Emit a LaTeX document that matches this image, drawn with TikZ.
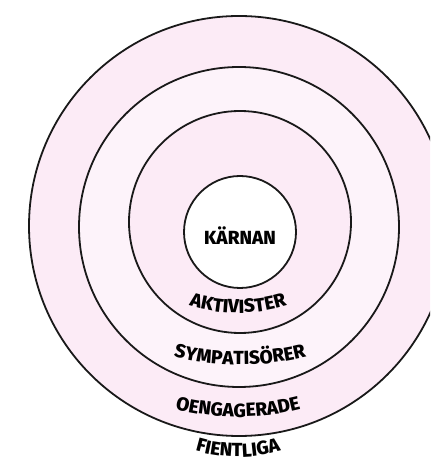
\documentclass[tikz,border=0pt]{standalone}
\usepackage{fontspec}
\newfontfamily\lbl{Fira Sans ExtraBold}
\usetikzlibrary{decorations.text}
\definecolor{ringpink}{RGB}{252,235,246}
\definecolor{ringlight}{RGB}{253,243,250}
\begin{document}
\begin{tikzpicture}[x=1pt,y=1pt,
  ring/.style={draw=black!90, line width=1.8pt},
  arclabel/.style={decorate, decoration={text along path, text align=center, text={|\lbl\fontsize{19}{19}\selectfont|#1}}}]
\useasboundingbox (0,0) rectangle (430,462);
\clip (0,0) rectangle (430,462);
\fill[white] (0,0) rectangle (430,462);
\draw[ring, fill=ringpink] (239,236) circle (210);
\draw[ring, fill=ringlight] (239,235) circle (160);
\draw[ring, fill=ringpink] (240,240) circle (111);
\draw[ring, fill=white] (240,230) circle (56);
\node[font=\lbl\fontsize{19}{19}\selectfont] (karnan) at (240,226) {KÄRNAN};
\coordinate (ca) at (238,314);
\coordinate (cs) at (240,367);
\coordinate (co) at (238,300);
\coordinate (cf) at (238,155);
\path[arclabel={AKTIVISTER}] ([shift={(240:165)}]ca) arc[start angle=240, end angle=300, radius=165];
\path[arclabel={SYMPATISÖRER}] ([shift={(250:270)}]cs) arc[start angle=250, end angle=290, radius=270];
\path[arclabel={OENGAGERADE}] ([shift={(250:255)}]co) arc[start angle=250, end angle=290, radius=255];
\path[arclabel={FIENTLIGA}] ([shift={(240:150)}]cf) arc[start angle=240, end angle=300, radius=150];
\end{tikzpicture}
\end{document}
